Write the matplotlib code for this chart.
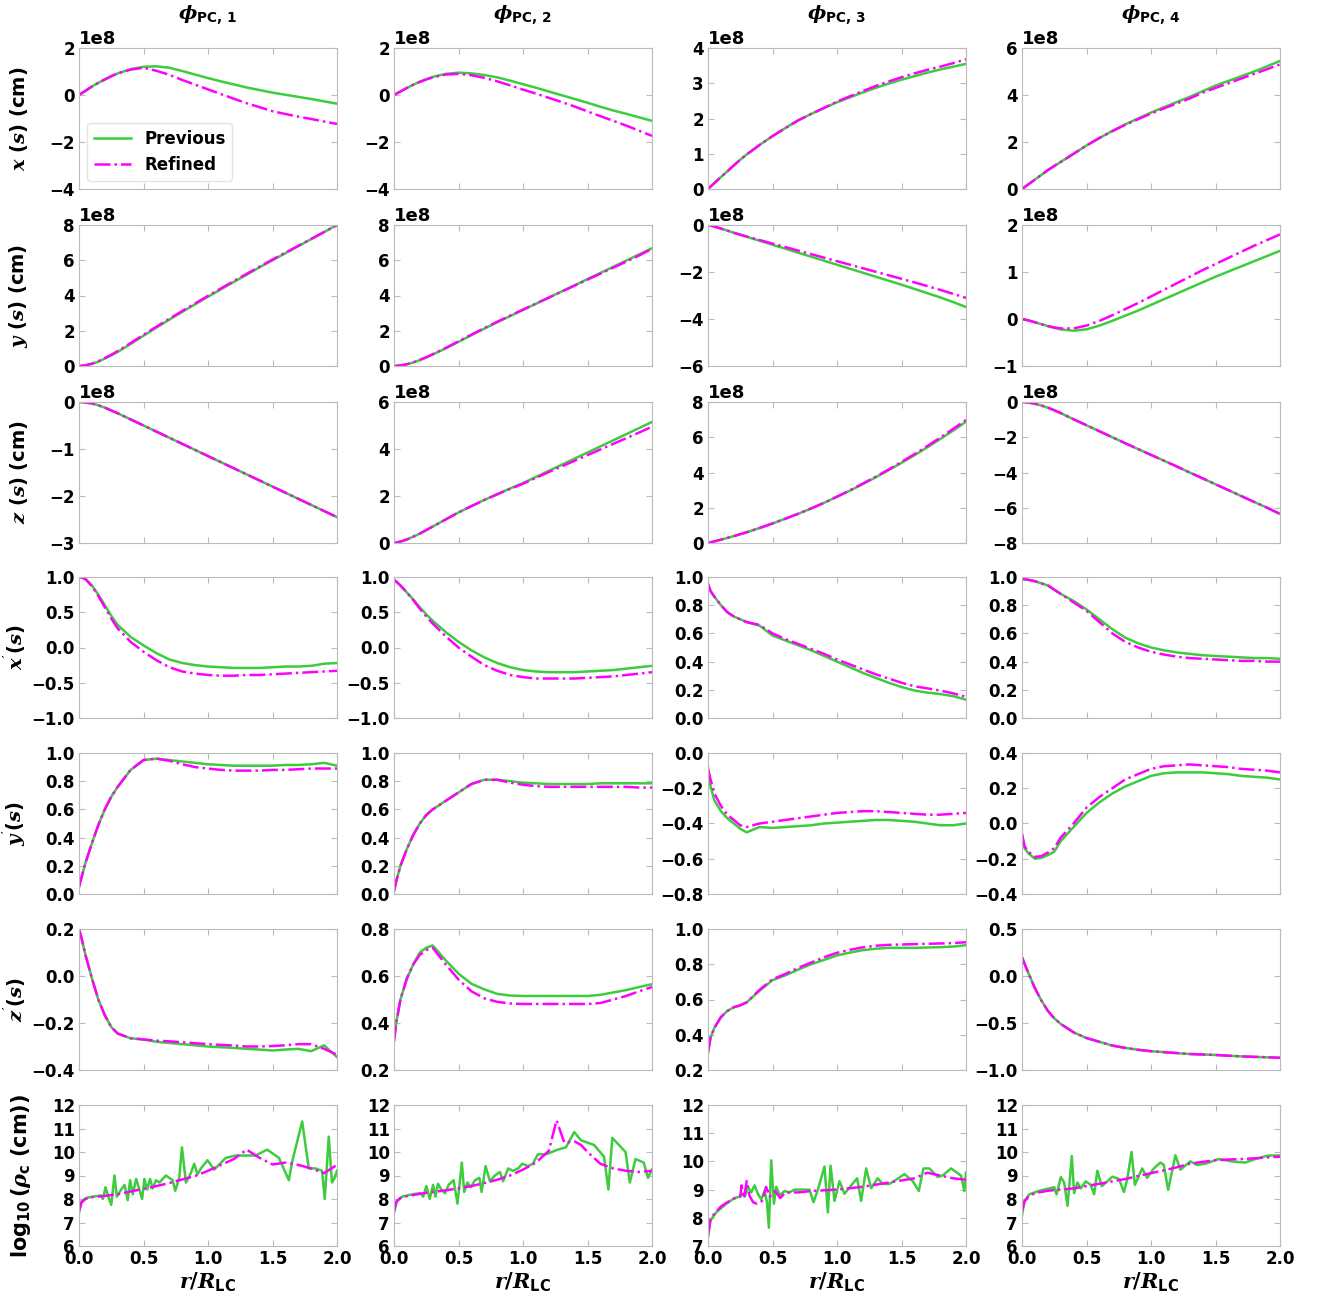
import numpy as np
import matplotlib
matplotlib.use("Agg")
import matplotlib.pyplot as plt
from matplotlib.ticker import MultipleLocator

plt.rcParams['font.family'] = ['DejaVu Sans']
plt.rcParams['font.weight'] = 'bold'
plt.rcParams['axes.labelweight'] = 'bold'
plt.rcParams['mathtext.fontset'] = 'custom'
plt.rcParams['mathtext.it'] = 'DejaVu Serif:italic'
plt.rcParams['mathtext.rm'] = 'DejaVu Sans:bold'
plt.rcParams['mathtext.bf'] = 'DejaVu Sans:bold'

# r / R_LC sampling of the smooth curves
r_grid = [0, 0.02, 0.05, 0.1, 0.15, 0.2, 0.25, 0.3, 0.4, 0.5, 0.6, 0.7, 0.8, 0.9,
          1.0, 1.1, 1.2, 1.3, 1.4, 1.5, 1.6, 1.7, 1.8, 1.9, 2.0]

col_titles = [r'$\phi_{\mathbf{PC,\,1}}$', r'$\phi_{\mathbf{PC,\,2}}$',
              r'$\phi_{\mathbf{PC,\,3}}$', r'$\phi_{\mathbf{PC,\,4}}$']
row_labels = [r'$x\ (s)$ (cm)', r'$y\ (s)$ (cm)', r'$z\ (s)$ (cm)',
              r"$x^{'}(s)$", r"$y^{'}(s)$", r"$z^{'}(s)$",
              r'$\log_{10}(\rho_{\mathrm{c}}$ (cm))']

# x(s), units of 1e8 cm
x_prev = [
    [0, .07, .18, .36, .52, .66, .8, .92, 1.1, 1.2, 1.22, 1.16, 1.02, .87, .72, .58, .45, .32, .21, .1, .01, -.08, -.17, -.27, -.37],
    [0, .06, .15, .3, .44, .56, .67, .77, .9, .95, .92, .85, .75, .61, .46, .31, .15, -.01, -.17, -.33, -.5, -.66, -.8, -.95, -1.1],
    [0, .07, .17, .34, .5, .67, .83, .98, 1.25, 1.5, 1.73, 1.95, 2.13, 2.3, 2.46, 2.6, 2.74, 2.87, 2.99, 3.1, 3.2, 3.3, 3.39, 3.47, 3.55],
    [0, .08, .2, .4, .6, .8, .98, 1.15, 1.5, 1.85, 2.17, 2.47, 2.75, 3.0, 3.25, 3.48, 3.7, 3.92, 4.16, 4.4, 4.6, 4.8, 5.0, 5.22, 5.45],
]
x_ref = [
    [0, .07, .18, .36, .52, .66, .8, .92, 1.08, 1.16, 1.03, .86, .64, .44, .24, .04, -.16, -.35, -.52, -.69, -.81, -.92, -1.02, -1.13, -1.23],
    [0, .06, .15, .3, .44, .56, .66, .75, .87, .9, .84, .73, .58, .41, .23, .06, -.12, -.3, -.49, -.7, -.9, -1.1, -1.3, -1.52, -1.74],
    [0, .07, .17, .34, .5, .67, .83, .98, 1.25, 1.5, 1.73, 1.95, 2.13, 2.3, 2.48, 2.63, 2.78, 2.92, 3.05, 3.17, 3.28, 3.38, 3.47, 3.57, 3.68],
    [0, .08, .2, .4, .6, .8, .98, 1.15, 1.5, 1.85, 2.17, 2.46, 2.73, 2.97, 3.21, 3.43, 3.64, 3.85, 4.1, 4.3, 4.5, 4.7, 4.9, 5.1, 5.3],
]
# y(s), units of 1e8 cm
y_prev = [
    [0, .01, .04, .12, .25, .42, .6, .8, 1.25, 1.72, 2.18, 2.63, 3.07, 3.5, 3.93, 4.35, 4.77, 5.18, 5.6, 6.0, 6.4, 6.8, 7.2, 7.6, 8.0],
    [0, .01, .03, .1, .2, .33, .48, .65, 1.0, 1.37, 1.75, 2.12, 2.48, 2.83, 3.18, 3.53, 3.88, 4.23, 4.58, 4.93, 5.28, 5.63, 5.98, 6.33, 6.68],
    [0, -.02, -.07, -.15, -.24, -.33, -.42, -.5, -.67, -.84, -1.01, -1.18, -1.35, -1.52, -1.69, -1.86, -2.03, -2.2, -2.37, -2.54, -2.72, -2.9, -3.08, -3.28, -3.49],
    [0, -.01, -.03, -.07, -.11, -.15, -.19, -.22, -.25, -.22, -.14, -.04, .07, .18, .3, .42, .54, .66, .78, .9, 1.01, 1.12, 1.23, 1.34, 1.45],
]
y_ref = [
    [0, .01, .04, .13, .27, .45, .64, .85, 1.3, 1.77, 2.23, 2.68, 3.12, 3.55, 3.98, 4.4, 4.82, 5.23, 5.64, 6.04, 6.43, 6.82, 7.21, 7.6, 8.0],
    [0, .01, .03, .1, .21, .35, .5, .67, 1.02, 1.4, 1.78, 2.15, 2.51, 2.86, 3.2, 3.54, 3.88, 4.22, 4.56, 4.9, 5.24, 5.58, 5.92, 6.27, 6.65],
    [0, -.02, -.07, -.15, -.24, -.33, -.41, -.49, -.64, -.79, -.94, -1.09, -1.24, -1.39, -1.54, -1.69, -1.84, -1.99, -2.14, -2.29, -2.44, -2.6, -2.76, -2.93, -3.1],
    [0, -.01, -.03, -.07, -.11, -.15, -.18, -.2, -.2, -.14, -.04, .08, .21, .34, .48, .62, .76, .9, 1.04, 1.17, 1.3, 1.43, 1.56, 1.68, 1.8],
]
# z(s), units of 1e8 cm
z_prev = [
    [0, 0, -.01, -.03, -.07, -.12, -.18, -.24, -.37, -.5, -.63, -.76, -.89, -1.02, -1.15, -1.28, -1.41, -1.54, -1.67, -1.8, -1.93, -2.06, -2.19, -2.32, -2.45],
    [0, .02, .06, .15, .27, .4, .55, .7, 1.0, 1.3, 1.57, 1.83, 2.08, 2.32, 2.55, 2.81, 3.07, 3.33, 3.59, 3.85, 4.11, 4.37, 4.63, 4.89, 5.15],
    [0, .036, .092, .19, .29, .39, .5, .61, .85, 1.11, 1.38, 1.66, 1.96, 2.28, 2.62, 2.97, 3.34, 3.73, 4.13, 4.55, 4.98, 5.43, 5.9, 6.38, 6.88],
    [0, -.01, -.03, -.1, -.2, -.32, -.47, -.63, -.98, -1.32, -1.66, -2.0, -2.34, -2.67, -3.0, -3.33, -3.66, -4.0, -4.33, -4.67, -5.0, -5.34, -5.67, -6.0, -6.35],
]
z_ref = [
    [0, 0, -.01, -.03, -.07, -.12, -.18, -.24, -.37, -.5, -.63, -.76, -.89, -1.02, -1.15, -1.28, -1.41, -1.54, -1.67, -1.8, -1.93, -2.06, -2.19, -2.32, -2.45],
    [0, .02, .06, .15, .27, .4, .55, .7, 1.0, 1.3, 1.57, 1.83, 2.07, 2.3, 2.52, 2.77, 3.02, 3.26, 3.5, 3.74, 3.98, 4.22, 4.46, 4.7, 4.95],
    [0, .036, .092, .19, .29, .39, .5, .61, .85, 1.11, 1.38, 1.66, 1.96, 2.28, 2.63, 2.99, 3.37, 3.76, 4.17, 4.6, 5.04, 5.5, 5.98, 6.47, 6.98],
    [0, -.01, -.03, -.1, -.2, -.32, -.47, -.63, -.98, -1.32, -1.66, -2.0, -2.34, -2.67, -3.0, -3.33, -3.66, -4.0, -4.33, -4.67, -5.0, -5.34, -5.67, -6.0, -6.35],
]
# x'(s)
dx_prev = [
    [1.0, .995, .97, .88, .75, .6, .45, .32, .15, .03, -.08, -.17, -.22, -.25, -.27, -.28, -.29, -.29, -.29, -.28, -.27, -.27, -.26, -.23, -.22],
    [.96, .93, .88, .78, .68, .57, .47, .38, .22, .08, -.04, -.14, -.22, -.28, -.32, -.34, -.35, -.35, -.35, -.34, -.33, -.32, -.3, -.28, -.26],
    [.95, .9, .86, .8, .75, .72, .7, .68, .655, .585, .55, .515, .48, .44, .4, .36, .32, .285, .25, .22, .195, .18, .17, .155, .13],
    [.985, .984, .98, .97, .955, .94, .91, .88, .83, .77, .7, .63, .57, .53, .5, .48, .465, .455, .445, .44, .435, .43, .425, .425, .42],
]
dx_ref = [
    [1.0, .995, .97, .87, .73, .57, .41, .27, .08, -.06, -.18, -.28, -.34, -.37, -.39, -.4, -.4, -.39, -.39, -.38, -.37, -.36, -.35, -.34, -.33],
    [.96, .93, .88, .78, .67, .55, .44, .34, .16, 0, -.13, -.25, -.33, -.39, -.42, -.44, -.44, -.44, -.44, -.43, -.42, -.41, -.39, -.37, -.35],
    [.95, .9, .86, .8, .75, .72, .7, .68, .66, .6, .56, .525, .49, .455, .415, .38, .345, .31, .28, .25, .225, .21, .195, .175, .15],
    [.985, .984, .98, .97, .955, .94, .91, .88, .82, .76, .68, .6, .54, .5, .47, .45, .435, .425, .42, .415, .41, .405, .405, .4, .4],
]
# y'(s)
dy_prev = [
    [.05, .12, .22, .36, .49, .6, .69, .76, .88, .95, .96, .95, .94, .93, .92, .915, .91, .91, .91, .91, .915, .915, .92, .93, .91],
    [.02, .1, .2, .32, .42, .5, .56, .6, .66, .72, .78, .81, .81, .8, .79, .785, .78, .78, .78, .78, .785, .785, .785, .785, .785],
    [-.08, -.19, -.27, -.33, -.37, -.4, -.43, -.45, -.42, -.425, -.42, -.415, -.41, -.4, -.395, -.39, -.385, -.38, -.38, -.385, -.39, -.4, -.41, -.41, -.4],
    [-.06, -.14, -.17, -.2, -.195, -.18, -.16, -.1, -.02, .06, .12, .17, .21, .24, .27, .285, .29, .29, .29, .285, .28, .27, .265, .26, .25],
]
dy_ref = [
    [.05, .12, .22, .36, .49, .6, .69, .76, .88, .95, .96, .945, .92, .9, .89, .88, .875, .875, .875, .88, .88, .885, .89, .89, .89],
    [.02, .1, .2, .32, .42, .5, .56, .6, .66, .72, .78, .81, .81, .79, .775, .765, .76, .76, .76, .76, .76, .76, .76, .755, .755],
    [-.09, -.15, -.23, -.3, -.35, -.38, -.41, -.42, -.4, -.39, -.38, -.37, -.36, -.35, -.34, -.335, -.33, -.33, -.335, -.34, -.345, -.35, -.35, -.345, -.34],
    [-.06, -.13, -.16, -.19, -.185, -.165, -.14, -.08, 0, .09, .15, .2, .25, .28, .31, .325, .33, .335, .33, .325, .32, .31, .305, .3, .29],
]
# z'(s)
dz_prev = [
    [.2, .16, .09, -.01, -.1, -.167, -.217, -.245, -.265, -.27, -.28, -.285, -.29, -.295, -.3, -.303, -.306, -.31, -.313, -.317, -.313, -.31, -.32, -.295, -.345],
    [.33, .41, .5, .59, .65, .7, .72, .73, .667, .61, .567, .543, .524, .517, .515, .515, .515, .515, .515, .515, .52, .53, .54, .553, .565],
    [.3, .385, .44, .5, .535, .556, .567, .584, .65, .71, .737, .77, .8, .825, .85, .866, .88, .888, .893, .893, .893, .895, .897, .9, .908],
    [.2, .13, .03, -.13, -.26, -.37, -.45, -.51, -.6, -.66, -.7, -.74, -.765, -.785, -.8, -.81, -.82, -.83, -.835, -.84, -.848, -.855, -.86, -.865, -.87],
]
dz_ref = [
    [.2, .16, .09, -.01, -.1, -.167, -.217, -.245, -.265, -.27, -.275, -.278, -.282, -.286, -.29, -.293, -.296, -.3, -.3, -.298, -.295, -.29, -.29, -.31, -.335],
    [.32, .41, .5, .59, .65, .69, .71, .72, .65, .585, .535, .505, .49, .483, .481, .481, .481, .481, .481, .481, .485, .5, .515, .535, .553],
    [.3, .385, .44, .5, .535, .556, .567, .584, .655, .715, .745, .78, .81, .84, .865, .882, .896, .905, .91, .912, .914, .916, .918, .92, .925],
    [.2, .13, .03, -.13, -.26, -.37, -.45, -.51, -.6, -.66, -.7, -.74, -.765, -.785, -.8, -.81, -.82, -.83, -.835, -.84, -.848, -.855, -.86, -.865, -.87],
]

# log10(rho_c): own sampling per curve
rho_prev_r = [
    [0, .018, .057, .134, .172, .185, .206, .224, .25, .275, .293, .327, .353, .378, .396, .417, .443, .468, .489, .507, .528, .551, .571, .597, .623, .674, .726, .746, .777, .798, .829, .867, .893, .919, .945, .996, 1.048, 1.138, 1.215, 1.292, 1.369, 1.459, 1.55, 1.627, 1.653, 1.73, 1.781, 1.833, 1.884, 1.905, 1.936, 1.961, 1.982, 2.0],
    [0, .021, .064, .141, .205, .226, .251, .277, .303, .321, .341, .372, .397, .423, .462, .492, .526, .544, .569, .595, .628, .662, .679, .71, .744, .782, .821, .846, .885, .923, .962, .995, 1.038, 1.077, 1.115, 1.179, 1.269, 1.333, 1.397, 1.449, 1.551, 1.628, 1.662, 1.692, 1.795, 1.828, 1.872, 1.936, 1.969, 2.0],
    [0, .018, .065, .142, .206, .245, .266, .284, .31, .335, .361, .387, .413, .439, .457, .472, .49, .511, .529, .555, .594, .632, .671, .735, .787, .818, .852, .903, .929, .95, .981, 1.019, 1.058, 1.11, 1.156, 1.187, 1.226, 1.265, 1.316, 1.355, 1.406, 1.458, 1.523, 1.587, 1.634, 1.67, 1.716, 1.781, 1.819, 1.884, 1.961, 1.987, 2.0],
    [0, .018, .057, .134, .211, .25, .268, .301, .327, .353, .386, .404, .43, .456, .494, .533, .559, .584, .618, .662, .7, .752, .79, .816, .849, .875, .932, .97, 1.022, 1.073, 1.099, 1.133, 1.189, 1.228, 1.305, 1.357, 1.421, 1.524, 1.627, 1.73, 1.807, 1.91, 2.0],
]
rho_prev = [
    [7.4, 7.9, 8.05, 8.12, 8.15, 8.0, 8.5, 8.15, 7.75, 9.0, 8.1, 8.4, 8.6, 7.95, 8.8, 8.2, 8.85, 8.4, 8.0, 8.85, 8.4, 8.85, 8.45, 8.8, 8.7, 9.0, 8.8, 8.35, 8.9, 10.2, 8.7, 9.1, 9.5, 9.05, 9.3, 9.65, 9.25, 9.75, 9.85, 9.85, 9.85, 10.1, 9.75, 8.8, 9.6, 11.3, 9.3, 9.3, 9.2, 8.0, 10.65, 8.7, 8.9, 9.2],
    [7.4, 7.9, 8.1, 8.2, 8.25, 8.1, 8.55, 8.0, 8.6, 8.1, 8.65, 8.35, 8.25, 8.6, 8.8, 7.8, 9.55, 8.3, 8.7, 8.5, 8.8, 8.9, 8.3, 9.4, 8.75, 9.0, 9.15, 8.75, 9.3, 9.2, 9.3, 9.5, 9.4, 9.5, 9.9, 9.9, 10.1, 10.2, 10.85, 10.5, 10.3, 9.8, 8.4, 10.6, 10.0, 8.7, 9.7, 9.55, 8.9, 9.25],
    [7.3, 7.9, 8.2, 8.5, 8.7, 8.75, 8.85, 8.75, 9.1, 8.9, 9.15, 8.85, 8.65, 8.95, 8.55, 7.65, 10.04, 8.5, 9.1, 8.8, 8.95, 8.9, 9.0, 9.0, 9.0, 8.55, 9.0, 9.82, 8.19, 9.85, 8.6, 9.3, 8.85, 9.15, 9.4, 8.6, 9.75, 9.05, 9.4, 9.2, 9.2, 9.35, 9.55, 9.3, 8.95, 9.75, 9.75, 9.45, 9.5, 9.75, 9.5, 8.95, 9.6],
    [7.3, 7.9, 8.2, 8.35, 8.45, 8.5, 8.2, 8.93, 8.7, 7.71, 9.83, 8.25, 8.7, 8.45, 8.75, 8.6, 8.2, 9.2, 8.55, 8.75, 8.95, 8.85, 8.3, 8.85, 10.0, 8.6, 9.3, 8.9, 9.3, 9.55, 9.45, 8.39, 9.86, 9.25, 9.6, 9.45, 9.5, 9.7, 9.6, 9.55, 9.7, 9.85, 9.85],
]
rho_ref_r = [
    r_grid,
    [0, .02, .05, .1, .2, .3, .4, .5, .6, .7, .8, .9, 1.0, 1.1, 1.2, 1.26, 1.32, 1.4, 1.45, 1.5, 1.6, 1.7, 1.8, 1.9, 2.0],
    [0, .02, .05, .1, .15, .2, .25, .26, .28, .3, .32, .35, .38, .42, .45, .48, .52, .56, .6, .7, .8, 1.0, 1.2, 1.4, 1.6, 1.7, 1.8, 1.9, 2.0],
    r_grid,
]
rho_ref = [
    [7.5, 7.85, 8.0, 8.08, 8.1, 8.13, 8.17, 8.2, 8.32, 8.43, 8.55, 8.68, 8.83, 8.98, 9.2, 9.45, 9.7, 10.1, 9.75, 9.47, 9.55, 9.45, 9.3, 9.1, 9.45],
    [7.5, 7.9, 8.05, 8.12, 8.22, 8.3, 8.37, 8.45, 8.55, 8.68, 8.82, 9.0, 9.25, 9.55, 10.05, 11.35, 10.4, 10.45, 10.3, 10.0, 9.5, 9.3, 9.2, 9.15, 9.2],
    [7.4, 7.95, 8.15, 8.4, 8.55, 8.68, 8.75, 9.15, 8.7, 9.3, 8.8, 8.55, 8.5, 8.6, 9.1, 8.75, 8.95, 8.7, 8.9, 8.9, 8.95, 9.0, 9.1, 9.25, 9.4, 9.6, 9.5, 9.4, 9.35],
    [7.5, 7.9, 8.1, 8.25, 8.3, 8.35, 8.38, 8.4, 8.45, 8.55, 8.65, 8.75, 8.85, 8.98, 9.1, 9.22, 9.35, 9.5, 9.58, 9.65, 9.68, 9.7, 9.73, 9.77, 9.8],
]

prev_rows = [x_prev, y_prev, z_prev, dx_prev, dy_prev, dz_prev]
ref_rows = [x_ref, y_ref, z_ref, dx_ref, dy_ref, dz_ref]
scale_rows = [1e8, 1e8, 1e8, 1, 1, 1, 1]

ylims = [
    [(-4, 2), (-4, 2), (0, 4), (0, 6)],
    [(0, 8), (0, 8), (-6, 0), (-1, 2)],
    [(-3, 0), (0, 6), (0, 8), (-8, 0)],
    [(-1, 1), (-1, 1), (0, 1), (0, 1)],
    [(0, 1), (0, 1), (-0.8, 0), (-0.4, 0.4)],
    [(-0.4, 0.2), (0.2, 0.8), (0.2, 1.0), (-1, 0.5)],
    [(6, 12), (6, 12), (7, 12), (6, 12)],
]
ysteps = [
    [2, 2, 1, 2], [2, 2, 2, 1], [1, 2, 2, 2],
    [0.5, 0.5, 0.2, 0.2], [0.2, 0.2, 0.2, 0.2], [0.2, 0.2, 0.2, 0.5], [1, 1, 1, 1],
]

GREEN = '#3ccc3c'
MAGENTA = '#ff00ff'
W, H = 1322, 1299
fig = plt.figure(figsize=(W / 100, H / 100), dpi=100)

lefts = [79, 394, 708, 1022]
tops = [48, 225, 402, 577, 753, 929, 1105]
aw, ah = 258, 141

for i, top in enumerate(tops):
    for j, left in enumerate(lefts):
        ax = fig.add_axes([left / W, 1 - (top + ah) / H, aw / W, ah / H])
        s = scale_rows[i]
        if i < 6:
            ax.plot(r_grid, np.array(prev_rows[i][j]) * s, color=GREEN, lw=1.8, label='Previous')
            ax.plot(r_grid, np.array(ref_rows[i][j]) * s, color=MAGENTA, lw=1.8, ls='-.', label='Refined')
        else:
            ax.plot(rho_prev_r[j], rho_prev[j], color=GREEN, lw=1.8, label='Previous')
            ax.plot(rho_ref_r[j], rho_ref[j], color=MAGENTA, lw=1.8, ls='-.', label='Refined')
        lo, hi = ylims[i][j]
        ax.set_ylim(lo * s, hi * s)
        ax.yaxis.set_major_locator(MultipleLocator(ysteps[i][j] * s))
        ax.set_xlim(0, 2)
        ax.xaxis.set_major_locator(MultipleLocator(0.5))
        for sp in ax.spines.values():
            sp.set_color('#bbbbbb')
        ax.tick_params(direction='in', top=True, right=True, color='#bbbbbb',
                       length=4, labelsize=12, pad=3)
        for lab in ax.get_yticklabels() + ax.get_xticklabels():
            lab.set_fontweight('bold')
        ax.yaxis.get_offset_text().set_fontsize(13)
        ax.yaxis.get_offset_text().set_fontweight('bold')
        if i < 6:
            ax.tick_params(labelbottom=False)
        else:
            ax.set_xlabel(r'$r/R_{\mathbf{LC}}$', fontsize=15, labelpad=2)
        if j == 0:
            ax.set_ylabel(row_labels[i], fontsize=15 if i == 6 else 14)
            ax.yaxis.set_label_coords(-0.18 if i == 6 else -0.19, 0.5)
        if i == 0 and j == 0:
            ax.legend(loc='lower left', prop={'weight': 'bold', 'size': 12},
                      edgecolor='#dddddd', handlelength=2.2)

for j, left in enumerate(lefts):
    fig.text((left + aw / 2) / W, 1 - 15 / H, col_titles[j], ha='center', va='center', fontsize=14)

fig.savefig('out.png', dpi=100)
